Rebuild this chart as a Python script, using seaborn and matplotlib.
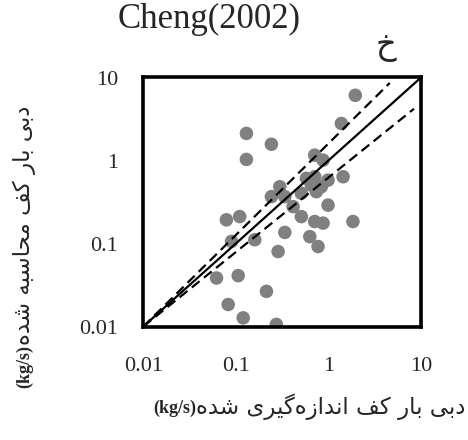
import matplotlib
matplotlib.use("Agg")
import matplotlib.pyplot as plt
import seaborn as sns
import pandas as pd

sns.set_style("white")
plt.rcParams['font.family'] = ['Liberation Serif', 'DejaVu Sans']

# measured vs computed bed-load discharge (kg/s)
measured = [1.95, 1.38, 0.130, 0.242, 0.130, 0.711, 0.875, 1.44, 0.578, 0.711,
            0.99, 0.298, 0.654, 0.838, 0.51, 0.74, 0.242, 0.338, 0.415, 0.99,
            0.079, 0.110, 0.51, 0.711, 0.875, 1.84, 0.338, 0.160, 0.0897, 0.629,
            0.772, 0.286, 0.0618, 0.106, 0.214, 0.0826, 0.120, 0.274]
computed = [6.1, 2.79, 2.12, 1.57, 1.03, 1.16, 1.01, 0.637, 0.61, 0.637,
            0.58, 0.483, 0.507, 0.483, 0.403, 0.421, 0.367, 0.367, 0.278, 0.29,
            0.193, 0.211, 0.211, 0.184, 0.176, 0.184, 0.136, 0.111, 0.106, 0.121,
            0.092, 0.080, 0.0384, 0.041, 0.0265, 0.0184, 0.0127, 0.0106]

line_x = [0.01, 10]
line_y = [0.01, 10]
upper_x = [0.01, 4.6]
upper_y = [0.01, 8.6]
lower_x = [0.01, 8.4]
lower_y = [0.01, 4.2]

ticks = [0.01, 0.1, 1, 10]
tick_labels = ["0.01", "0.1", "1", "10"]

title = "Cheng(2002)"
panel = "\u062e"
# Persian labels in visual (left-to-right) order using presentation forms
ylab_fa = ("\uFEE9\uFEAA\uFEB7 \uFEEA\uFE92\uFEB3\uFE8E\uFEA4\uFEE3 "
           "\uFED2\uFEDB \uFEAD\uFE8E\uFE91 \uFEF0\uFE91\uFEA9")
xlab_fa = ("\uFEE9\uFEAA\uFEB7 \uFEEF\uFEAE\uFEF4\uFB94\uFEE9\uFEAF\uFE8D\uFEAA\uFEE7\uFE8D "
           "\uFED2\uFEDB \uFEAD\uFE8E\uFE91 \uFEF0\uFE91\uFEA9")
unit = "(kg/s)"

W, H = 468, 440
fig = plt.figure(figsize=(W / 100, H / 100), dpi=100)
l, r, t, b = 143.3, 421, 77.5, 326.5
ax = fig.add_axes([l / W, 1 - b / H, (r - l) / W, (b - t) / H])

df = pd.DataFrame({"measured": measured, "computed": computed})
sns.scatterplot(data=df, x="measured", y="computed", ax=ax, color="#808080",
                s=95, edgecolor="none", zorder=2)
sns.lineplot(x=line_x, y=line_y, ax=ax, color="black", lw=1.6, zorder=3)
sns.lineplot(x=upper_x, y=upper_y, ax=ax, color="black", lw=1.6, zorder=3)
sns.lineplot(x=lower_x, y=lower_y, ax=ax, color="black", lw=1.6, zorder=3)
for ln in ax.lines[1:]:
    ln.set_linestyle((0, (4.5, 2.5)))

ax.set_xscale("log")
ax.set_yscale("log")
ax.set_xlim(0.01, 10)
ax.set_ylim(0.01, 10)
ax.set_xticks(ticks)
ax.set_xticklabels(tick_labels)
ax.set_yticks(ticks)
ax.set_yticklabels(tick_labels)
ax.minorticks_off()
ax.tick_params(axis="both", length=0, labelsize=16)
ax.tick_params(axis="x", pad=22)
ax.tick_params(axis="y", pad=18)
ax.set_xlabel("")
ax.set_ylabel("")
for sp in ax.spines.values():
    sp.set_visible(True)
    sp.set_linewidth(2.6)
    sp.set_color("black")

fig.text(209 / W, 1 - 19 / H, title, ha="center", va="center", fontsize=25,
         family="Liberation Serif")
fig.text(386 / W, 1 - 47 / H, panel, ha="center", va="center", fontsize=23,
         family="DejaVu Sans")

# x label: bold unit then Persian text to its right
xu = fig.text(153 / W, 1 - 408 / H, unit, ha="left", va="center",
              fontsize=13, family="Liberation Serif", fontweight="bold")
# y label: bold unit at bottom, Persian text above
yu = fig.text(25 / W, 1 - 388 / H, unit, ha="center", va="bottom",
              rotation=90, fontsize=13, family="Liberation Serif",
              fontweight="bold")
fig.canvas.draw()
rend = fig.canvas.get_renderer()
bx = xu.get_window_extent(rend)
by = yu.get_window_extent(rend)
fig.text(bx.x1 / W, 1 - 407 / H, xlab_fa, ha="left", va="center",
         fontsize=16.5, family="DejaVu Sans")
fig.text(24 / W, by.y1 / H, ylab_fa, ha="center", va="bottom",
         rotation=90, fontsize=16.5, family="DejaVu Sans")

fig.savefig("out.png", dpi=100)
